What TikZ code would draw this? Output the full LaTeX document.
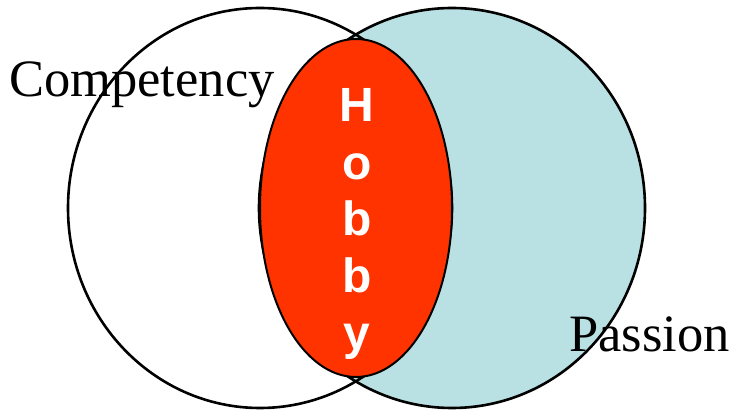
\documentclass[tikz,border=0pt]{standalone}
\usepackage{fontspec}
\setmainfont{Liberation Serif}
\newfontfamily\hobbyfont{Liberation Sans}
\definecolor{passionblue}{HTML}{B9E0E3}
\definecolor{hobbyred}{HTML}{FF3300}
\begin{document}
\begin{tikzpicture}[x=1pt,y=-1pt,
  ring/.style={line width=2.6pt},
  lbl/.style={inner sep=0pt,anchor=base west,font=\fontsize{#1}{#1}\selectfont},
  letter/.style={inner sep=0pt,anchor=base,text=white,font=\hobbyfont\bfseries\fontsize{48}{48}\selectfont}]
\useasboundingbox (0,0) rectangle (734,411);
% right circle (Passion)
\path[ring,draw=black,fill=passionblue] (452,208) ellipse [x radius=193, y radius=200];
% left circle (Competency)
\path[ring,draw=black] (260,208) ellipse [x radius=192, y radius=200];
% intersection (Hobby)
\path[line width=2pt,draw=black,fill=hobbyred] (356,208) ellipse [x radius=96, y radius=169];
% labels
\node[lbl=52.5] (comp) at (9,97) {Competency};
\node[lbl=52.5] (pass) at (569,352) {Passion};
\node[letter] (h1) at (357,122) {H};
\node[letter] (h2) at (357,180) {o};
\node[letter] (h3) at (357,236) {b};
\node[letter] (h4) at (357,293) {b};
\node[letter] (h5) at (357,350) {y};
\end{tikzpicture}
\end{document}
